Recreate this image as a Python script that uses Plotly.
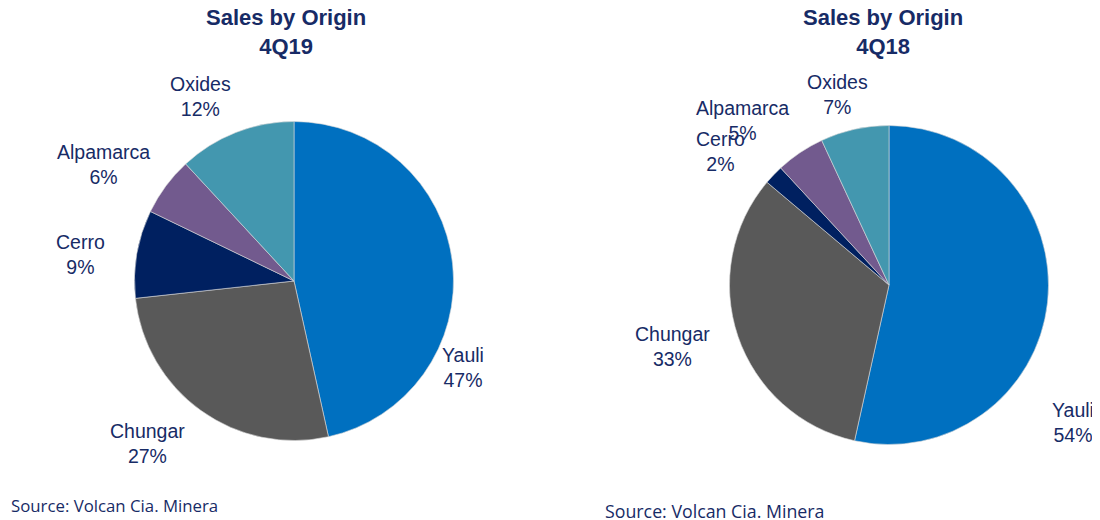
import plotly.graph_objects as go

categories = ["Yauli", "Chungar", "Cerro", "Alpamarca", "Oxides"]
share_4q19 = [47, 27, 9, 6, 12]
share_4q18 = [54, 33, 2, 5, 7]
colors = ["#0070C0", "#595959", "#002060", "#725A8E", "#4397AF"]
titles = ["Sales by Origin<br>4Q19", "Sales by Origin<br>4Q18"]
source = "Source: Volcan Cia. Minera"

navy = "#172B66"
W, H = 1100, 520
OFF = 8  # page body margin offset compensation

def px(x, y):
    return (x - OFF) / W, 1 - (y - OFF) / H

def dom(cx, cy, r):
    x0, y1 = px(cx - r, cy - r)
    x1, y0 = px(cx + r, cy + r)
    return dict(x=[x0, x1], y=[y0, y1])

# label anchor points (pixel centres) for each pie, in category order
label_pos = [
    [(463, 367), (147, 443), (80, 254), (103, 164), (200, 96)],
    [(1073, 422), (672, 346), (720, 151), (742, 120), (837, 95)],
]

fig = go.Figure()
pies = [(share_4q19, dom(294, 281, 159.5)), (share_4q18, dom(889, 285, 159.5))]
for k, (vals, d) in enumerate(pies):
    fig.add_trace(go.Pie(
        labels=categories, values=vals, sort=False, direction="clockwise", rotation=0,
        marker=dict(colors=colors, line=dict(width=0.6, color="#d9d9d9")),
        textinfo="none", domain=d, showlegend=False, hoverinfo="label+value",
    ))
    for name, v, (lx, ly) in zip(categories, vals, label_pos[k]):
        x, y = px(lx, ly)
        fig.add_annotation(text=f"{name}<br>{v}%", x=x, y=y, xref="paper", yref="paper",
                           xanchor="center", yanchor="middle", showarrow=False,
                           font=dict(family="Liberation Sans", size=19.5, color=navy))

for t, cx in zip(titles, [286, 883]):
    x, y = px(cx, 32)
    fig.add_annotation(text="<b>" + t + "</b>", x=x, y=y, xref="paper", yref="paper",
                       xanchor="center", yanchor="middle", showarrow=False,
                       font=dict(family="Liberation Sans", size=22, color=navy))

for sx, sy, fs in [(9, 505.5, 16.8), (603, 511, 17.8)]:
    x, y = px(sx, sy)
    fig.add_annotation(text=source, x=x, y=y, xref="paper", yref="paper",
                       xanchor="left", yanchor="middle", showarrow=False,
                       font=dict(family="Open Sans", size=fs, color=navy, weight=500))

fig.update_layout(width=W, height=H, margin=dict(l=0, r=0, t=0, b=0),
                  paper_bgcolor="white", plot_bgcolor="white")
fig.write_html("out.html")
